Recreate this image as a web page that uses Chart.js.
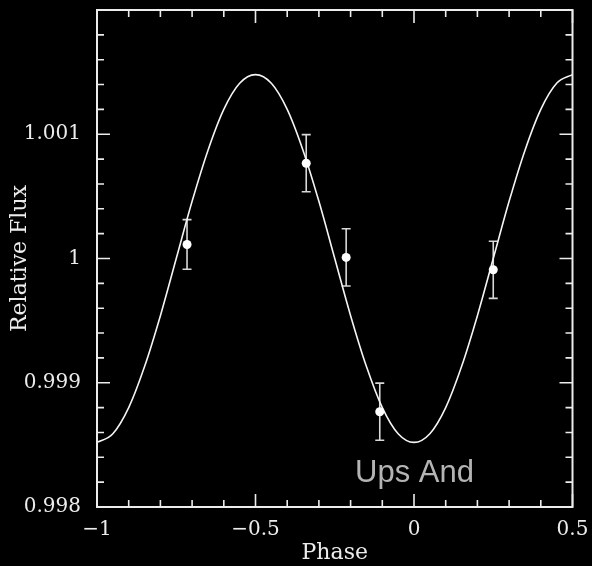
<!DOCTYPE html>
<html>
<head>
<meta charset="utf-8">
<script src="https://cdn.jsdelivr.net/npm/chart.js@4.4.1/dist/chart.umd.min.js"></script>
<style>
  html, body { margin: 0; padding: 0; background: #000; }
  #wrap { width: 592px; height: 566px; }
</style>
</head>
<body>
<div id="wrap"><canvas id="c"></canvas></div>
<script>
// Observed points: orbital phase, relative flux and 1-sigma uncertainty
const obsPhase = [-0.716, -0.340, -0.214, -0.108, 0.250];
const obsFlux  = [1.000113, 1.000767, 1.000009, 0.998767, 0.999909];
const obsErr   = [0.00020, 0.00023, 0.00023, 0.00023, 0.00023];

// Model light curve, sampled every 0.05 in phase
const modelPhase = [-1.00, -0.95, -0.90, -0.85, -0.80, -0.75, -0.70, -0.65, -0.60, -0.55,
                    -0.50, -0.45, -0.40, -0.35, -0.30, -0.25, -0.20, -0.15, -0.10, -0.05,
                     0.00,  0.05,  0.10,  0.15,  0.20,  0.25,  0.30,  0.35,  0.40,  0.45, 0.50];
const modelFlux  = [0.99852, 0.99859, 0.99880, 0.99913, 0.99954, 1.00000, 1.00046, 1.00087, 1.00120, 1.00141,
                    1.00148, 1.00141, 1.00120, 1.00087, 1.00046, 1.00000, 0.99954, 0.99913, 0.99880, 0.99859,
                    0.99852, 0.99859, 0.99880, 0.99913, 0.99954, 1.00000, 1.00046, 1.00087, 1.00120, 1.00141, 1.00148];

// Axis ticks
const xTickValues = [-1, -0.5, 0, 0.5];
const xTickLabels = ['\u22121', '\u22120.5', '0', '0.5'];
const yTickValues = [0.998, 0.999, 1, 1.001];
const yTickLabels = ['0.998', '0.999', '1', '1.001'];
const xMinorStep = 0.1;
const yMinorStep = 0.0002;

const FG = '#ececec';
const serif = '"DejaVu Serif", "Liberation Serif", serif';

// Box frame with inward major/minor ticks on all four sides
const frameTicks = {
  id: 'frameTicks',
  afterDatasetsDraw(chart) {
    const { ctx, chartArea: a, scales: { x, y } } = chart;
    ctx.save();
    ctx.strokeStyle = FG;
    ctx.lineWidth = 1.6;
    const major = 13, minor = 7;
    const isMajor = (v, vals) => vals.some(m => Math.abs(m - v) < 1e-9);
    for (let i = 0; ; i++) {
      const v = x.min + i * xMinorStep;
      if (v > x.max + 1e-9) break;
      const px = x.getPixelForValue(v);
      const len = isMajor(Math.round(v * 1e6) / 1e6, xTickValues) ? major : minor;
      ctx.beginPath();
      ctx.moveTo(px, a.bottom); ctx.lineTo(px, a.bottom - len);
      ctx.moveTo(px, a.top); ctx.lineTo(px, a.top + len);
      ctx.stroke();
    }
    for (let i = 0; ; i++) {
      const v = y.min + i * yMinorStep;
      if (v > y.max + 1e-12) break;
      const py = y.getPixelForValue(v);
      const len = isMajor(Math.round(v * 1e7) / 1e7, yTickValues) ? major : minor;
      ctx.beginPath();
      ctx.moveTo(a.left, py); ctx.lineTo(a.left + len, py);
      ctx.moveTo(a.right, py); ctx.lineTo(a.right - len, py);
      ctx.stroke();
    }
    ctx.lineWidth = 2;
    ctx.strokeRect(a.left, a.top, a.right - a.left, a.bottom - a.top);
    ctx.restore();
  }
};

// Vertical error bars with caps
const errorBars = {
  id: 'errorBars',
  beforeDatasetsDraw(chart) {
    const { ctx, scales: { x, y } } = chart;
    ctx.save();
    ctx.strokeStyle = '#d8d8d8';
    ctx.lineWidth = 1.6;
    const cap = 4.5;
    obsPhase.forEach((p, i) => {
      const px = x.getPixelForValue(p);
      const top = y.getPixelForValue(obsFlux[i] + obsErr[i]);
      const bot = y.getPixelForValue(obsFlux[i] - obsErr[i]);
      ctx.beginPath();
      ctx.moveTo(px, top); ctx.lineTo(px, bot);
      ctx.moveTo(px - cap, top); ctx.lineTo(px + cap, top);
      ctx.moveTo(px - cap, bot); ctx.lineTo(px + cap, bot);
      ctx.stroke();
    });
    ctx.restore();
  }
};

// Target name inside the plot
const targetLabel = {
  id: 'targetLabel',
  afterDatasetsDraw(chart) {
    const { ctx, scales: { x, y } } = chart;
    ctx.save();
    ctx.fillStyle = '#b4b4b4';
    ctx.font = '31px "Liberation Sans", Arial, sans-serif';
    ctx.textAlign = 'left';
    ctx.textBaseline = 'alphabetic';
    ctx.fillText('Ups And', x.getPixelForValue(-0.186), y.getPixelForValue(0.998204));
    ctx.restore();
  }
};

new Chart(document.getElementById('c'), {
  type: 'scatter',
  data: {
    datasets: [
      {
        type: 'line',
        data: modelPhase.map((p, i) => ({ x: p, y: modelFlux[i] })),
        borderColor: '#f4f4f4',
        borderWidth: 1.6,
        pointRadius: 0,
        cubicInterpolationMode: 'monotone',
        fill: false,
        order: 2
      },
      {
        data: obsPhase.map((p, i) => ({ x: p, y: obsFlux[i] })),
        backgroundColor: '#ffffff',
        borderColor: '#ffffff',
        pointRadius: 4.5,
        borderWidth: 0,
        order: 1
      }
    ]
  },
  options: {
    responsive: true,
    maintainAspectRatio: false,
    animation: false,
    events: [],
    layout: { padding: { left: 0, right: 19.5, top: 10, bottom: 0 } },
    plugins: { legend: { display: false }, tooltip: { enabled: false } },
    scales: {
      x: {
        type: 'linear',
        min: -1, max: 0.5,
        afterBuildTicks(s) { s.ticks = xTickValues.map(v => ({ value: v })); },
        afterFit(s) { s.height = 59; s.paddingLeft = 0; s.paddingRight = 0; },
        grid: { display: false, drawTicks: false },
        border: { display: false },
        ticks: {
          color: FG,
          font: { family: serif, size: 20 },
          padding: 11,
          maxRotation: 0,
          autoSkip: false,
          callback: (v) => xTickLabels[xTickValues.findIndex(t => Math.abs(t - v) < 1e-9)]
        },
        title: {
          display: true,
          text: 'Phase',
          color: FG,
          font: { family: serif, size: 22 },
          padding: { top: 0, bottom: 0 }
        }
      },
      y: {
        type: 'linear',
        min: 0.998, max: 1.002,
        afterBuildTicks(s) { s.ticks = yTickValues.map(v => ({ value: v })); },
        afterFit(s) { s.width = 97; s.paddingTop = 0; s.paddingBottom = 0; },
        grid: { display: false, drawTicks: false },
        border: { display: false },
        ticks: {
          color: FG,
          font: { family: serif, size: 20 },
          padding: 16,
          autoSkip: false,
          callback: (v) => yTickLabels[yTickValues.findIndex(t => Math.abs(t - v) < 1e-9)]
        },
        title: {
          display: true,
          text: 'Relative Flux',
          color: FG,
          font: { family: serif, size: 22 },
          padding: { top: 7, bottom: 7 }
        }
      }
    }
  },
  plugins: [errorBars, frameTicks, targetLabel]
});
</script>
</body>
</html>
